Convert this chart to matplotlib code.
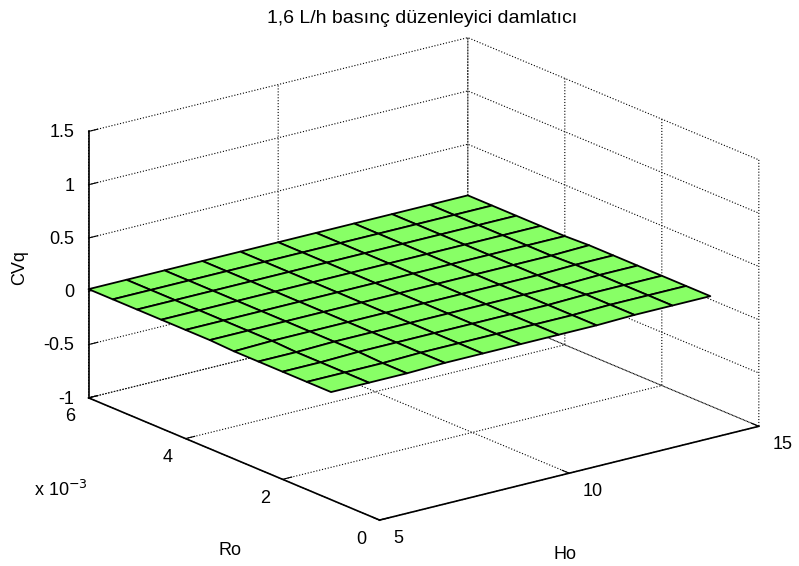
import matplotlib
matplotlib.use("Agg")
import matplotlib.pyplot as plt
import numpy as np

plt.rcParams['font.family'] = ['Liberation Sans', 'DejaVu Sans']

# data
ho = [5, 6, 7, 8, 9, 10, 11, 12, 13, 14, 15]
ro = [0.001, 0.0015, 0.002, 0.0025, 0.003, 0.0035, 0.004, 0.0045, 0.005, 0.0055, 0.006]
cvq = [
    [0.01, 0.01, 0.01, 0.02, 0.02, 0.02, 0.02, 0.02, 0.03, 0.03, 0.03],
    [0.01, 0.01, 0.01, 0.02, 0.02, 0.02, 0.02, 0.02, 0.03, 0.03, 0.03],
    [0.01, 0.01, 0.02, 0.02, 0.02, 0.02, 0.02, 0.02, 0.03, 0.03, 0.03],
    [0.01, 0.01, 0.02, 0.02, 0.02, 0.02, 0.02, 0.02, 0.02, 0.03, 0.03],
    [0.01, 0.02, 0.02, 0.02, 0.02, 0.02, 0.02, 0.02, 0.02, 0.03, 0.03],
    [0.02, 0.02, 0.02, 0.02, 0.02, 0.02, 0.02, 0.02, 0.02, 0.02, 0.03],
    [0.02, 0.02, 0.02, 0.02, 0.02, 0.02, 0.02, 0.02, 0.02, 0.02, 0.02],
    [0.02, 0.02, 0.02, 0.02, 0.02, 0.02, 0.02, 0.02, 0.02, 0.02, 0.02],
    [0.02, 0.02, 0.02, 0.02, 0.02, 0.02, 0.02, 0.02, 0.02, 0.02, 0.02],
    [0.02, 0.02, 0.02, 0.02, 0.02, 0.02, 0.02, 0.02, 0.02, 0.02, 0.02],
    [0.02, 0.02, 0.02, 0.02, 0.02, 0.02, 0.02, 0.02, 0.02, 0.02, 0.02],
]
ho_ticks = [5, 10, 15]
ro_ticks = [0, 0.002, 0.004, 0.006]
ro_ticklabels = ['0', '2', '4', '6']
z_ticks = [-1, -0.5, 0, 0.5, 1, 1.5]
z_ticklabels = ['-1', '-0.5', '0', '0.5', '1', '1.5']

H, R = np.meshgrid(ho, ro)
Z = np.array(cvq)

fig = plt.figure(figsize=(7.99, 5.66), dpi=100)
ax = fig.add_axes([0.0207, -0.0062, 1.0, 1.0], projection='3d', proj_type='ortho')
ax.view_init(elev=18.8, azim=-127.5)
ax.set_box_aspect((479, 479, 282), zoom=1.256)

surf = ax.plot_surface(H, R, Z, color='#88ff66', edgecolor='k', linewidth=1.3,
                       shade=False, rstride=1, cstride=1, antialiased=True)
surf.set_clip_on(False)

ax.set_xlim(5, 15)
ax.set_ylim(0, 0.006)
ax.set_zlim(-1, 1.5)
ax.set_xticks(ho_ticks)
ax.set_yticks(ro_ticks)
ax.set_yticklabels(ro_ticklabels)
ax.set_zticks(z_ticks)
ax.set_zticklabels(z_ticklabels)

for a in (ax.xaxis, ax.yaxis, ax.zaxis):
    a.set_pane_color((1, 1, 1, 0))
    a.pane.set_edgecolor((1, 1, 1, 0))
    a._axinfo['grid'].update(color='k', linestyle=':', linewidth=0.8)
    a._axinfo['tick'].update(inward_factor=0.0, outward_factor=0.3)
    a._axinfo['tick']['linewidth'] = {True: 0.8, False: 0.5}
    a.line.set_color('k')
    a.line.set_linewidth(1.2)
    a.set_tick_params(labelsize=13, pad=2)

ax.zaxis.set_tick_params(pad=-3.5)
for t in ax.zaxis.get_major_ticks():
    t.label1.set_ha('right')
    t.label1.set_va('center_baseline')
for t in ax.yaxis.get_major_ticks():
    t.label1.set_va('center_baseline')
for t in ax.xaxis.get_major_ticks():
    t.label1.set_ha('left')
    t.label1.set_va('center')

fig.text(0.528, 0.968, '1,6 L/h basınç düzenleyici damlatıcı', ha='center', va='center', fontsize=14)
fig.text(0.024, 0.527, 'CVq', ha='center', va='center', rotation=90, fontsize=13)
fig.text(0.288, 0.028, 'Ro', ha='center', va='center', fontsize=13)
fig.text(0.707, 0.021, 'Ho', ha='center', va='center', fontsize=13)
fig.text(0.042, 0.134, r'x 10$^{-3}$', ha='left', va='center', fontsize=13)

fig.savefig('out.png', dpi=100)
